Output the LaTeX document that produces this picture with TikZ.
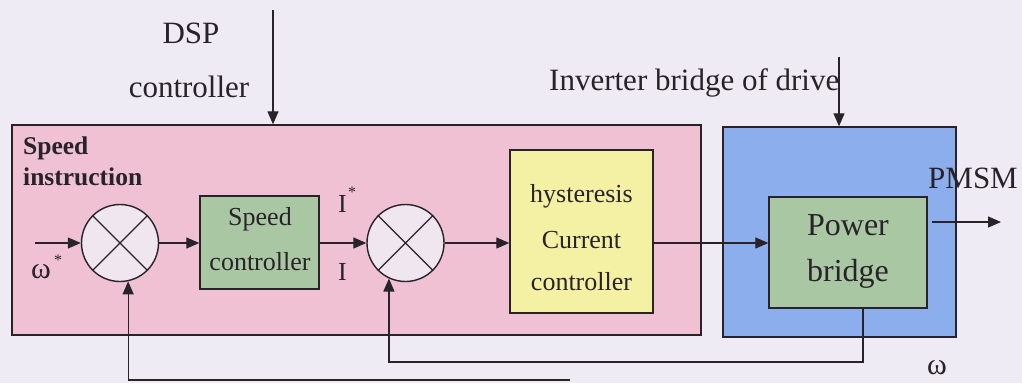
\documentclass[tikz,border=0pt]{standalone}
\usepackage{fontspec}
\setmainfont{Liberation Serif}
\usetikzlibrary{arrows.meta,calc}
\definecolor{bgc}{RGB}{238,235,244}
\definecolor{pinkc}{RGB}{240,193,210}
\definecolor{bluec}{RGB}{140,174,236}
\definecolor{greenc}{RGB}{170,199,163}
\definecolor{yellowc}{RGB}{244,240,164}
\definecolor{circc}{RGB}{240,230,240}
\definecolor{linec}{RGB}{40,35,40}
\tikzset{
  region/.style={draw=linec,line width=1.4pt,rectangle,inner sep=0pt},
  block/.style={draw=linec,line width=1.4pt,rectangle,inner sep=0pt,align=center},
  sumnode/.style={draw=linec,line width=1.4pt,circle,fill=circc,minimum size=77pt,inner sep=0pt},
  lbl/.style={inner sep=0pt,text=linec},
  conn/.style={draw=linec,line width=1.3pt},
  arr/.style={conn,-{Triangle[length=13pt,width=11pt]}},
  big/.style={font=\fontsize{31}{36}\selectfont},
  mid/.style={font=\fontsize{26}{30}\selectfont},
  omg/.style={font=\fontsize{30}{34}\selectfont},
}
\begin{document}
\begin{tikzpicture}[x=1pt,y=-1pt]
\useasboundingbox (0,0) rectangle (1022,383);
\fill[bgc] (0,0) rectangle (1022,383);
% regions
\node[region,fill=pinkc,minimum width=689pt,minimum height=210pt] (dsp) at (356.5,230) {};
\node[region,fill=bluec,minimum width=233pt,minimum height=210pt] (inv) at (839.5,232) {};
% blocks
\node[sumnode] (c1) at (120,243) {};
\node[sumnode] (c2) at (405.5,243) {};
\draw[conn] (c1.north west) -- (c1.south east) (c1.north east) -- (c1.south west);
\draw[conn] (c2.north west) -- (c2.south east) (c2.north east) -- (c2.south west);
\node[block,fill=greenc,minimum width=119pt,minimum height=93pt] (sc) at (259.5,242.5) {};
\node[block,fill=yellowc,minimum width=143pt,minimum height=163pt] (hc) at (581.5,231.5) {};
\node[block,fill=greenc,minimum width=158pt,minimum height=111pt] (pb) at (848,252.5) {};
% texts
\node[lbl,big,anchor=base] (tdsp) at (191,43) {DSP};
\node[lbl,big,anchor=base] (tdspc) at (189,97) {controller};
\node[lbl,big,anchor=base west] (tinv) at (549,90) {Inverter bridge of drive};
\node[lbl,anchor=base west,font=\bfseries\fontsize{25.5}{30}\selectfont] (tsp1) at (23,154) {Speed};
\node[lbl,anchor=base west,font=\bfseries\fontsize{25.5}{30}\selectfont] (tsp2) at (23,185) {instruction};
\node[lbl,mid,anchor=base] (tsc1) at (260,225) {Speed};
\node[lbl,mid,anchor=base] (tsc2) at (260,270) {controller};
\node[lbl,mid,anchor=base] (th1) at (581.5,202) {hysteresis};
\node[lbl,mid,anchor=base] (th2) at (581.5,248) {Current};
\node[lbl,mid,anchor=base] (th3) at (581.5,290) {controller};
\node[lbl,font=\fontsize{32}{36}\selectfont,anchor=base] (tpb1) at (848,235) {Power};
\node[lbl,font=\fontsize{32}{36}\selectfont,anchor=base] (tpb2) at (848,281) {bridge};
\node[lbl,big,anchor=base west] (tpm) at (928,188) {PMSM};
\node[lbl,omg,anchor=base west] (tws) at (31,278) {ω};
\node[lbl,font=\fontsize{16}{18}\selectfont,anchor=base west] (twss) at (54,265) {*};
\node[lbl,mid,anchor=base west] (tis) at (338,212) {I};
\node[lbl,font=\fontsize{16}{18}\selectfont,anchor=base west] (tiss) at (348,197) {*};
\node[lbl,mid,anchor=base west] (ti) at (338,280) {I};
\node[lbl,omg,anchor=base] (tw) at (937,374) {ω};
% coordinates
\coordinate (dspin) at (273,10);
\coordinate (invin) at (839,57);
\coordinate (win) at (35,243);
\coordinate (out) at (1001,222);
\coordinate (fb1) at (863,362);
\coordinate (fb2) at (570,380);
% connectors
\draw[arr] (dspin) -- (dspin |- dsp.north);
\draw[arr] (invin) -- (invin |- inv.north);
\draw[arr] (win) -- (c1.west);
\draw[arr] (c1.east) -- (sc.west |- c1.east);
\draw[arr] (sc.east |- c2.west) -- (c2.west);
\draw[arr] (c2.east) -- (hc.west |- c2.east);
\draw[arr] (hc.east |- c2.center) -- (pb.west |- c2.center);
\draw[arr] ($(pb.east |- out)+(4,0)$) -- (out);
\draw[arr] (pb.south -| fb1) -- (fb1) -- (c2.-115 |- fb1) -- (c2.-115);
\draw[arr] (fb2) -- (c1.-78 |- fb2) -- (c1.-78);
\end{tikzpicture}
\end{document}
